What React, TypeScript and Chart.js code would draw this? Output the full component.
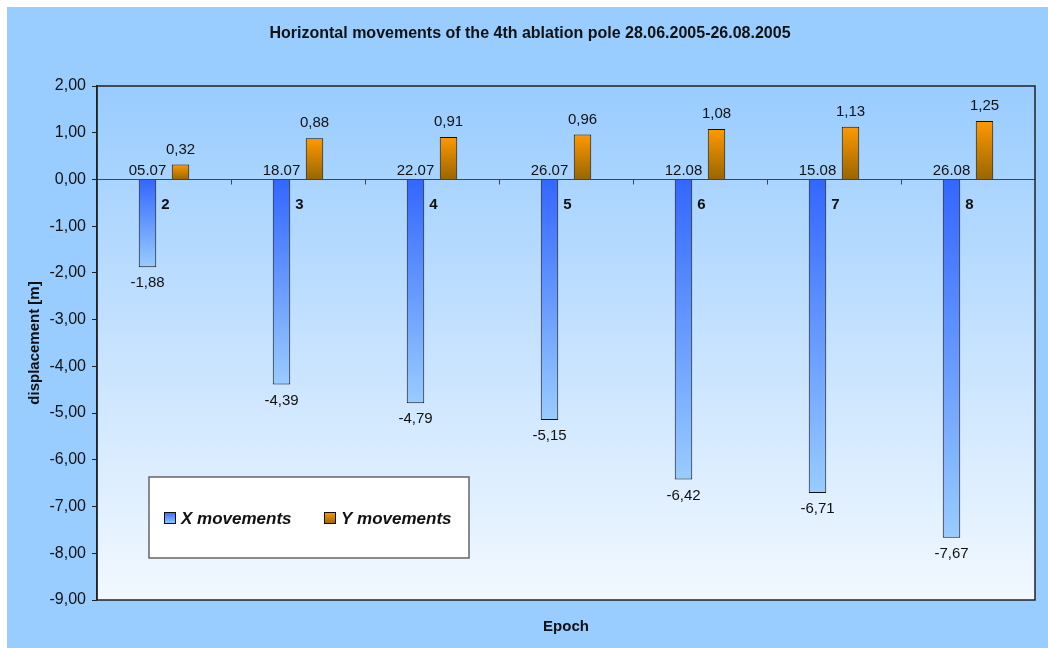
import React, { useEffect, useRef } from 'react';
import { Chart, registerables } from 'chart.js';

Chart.register(...registerables);

const epochs = ['2', '3', '4', '5', '6', '7', '8'];
const dates = ['05.07', '18.07', '22.07', '26.07', '12.08', '15.08', '26.08'];
const xMovements = [-1.88, -4.39, -4.79, -5.15, -6.42, -6.71, -7.67];
const yMovements = [0.32, 0.88, 0.91, 0.96, 1.08, 1.13, 1.25];
const seriesNames = ['X movements', 'Y movements'];
const yMin = -9;
const yMax = 2;
const yStep = 1;
const chartTitle = 'Horizontal movements of the 4th ablation pole 28.06.2005-26.08.2005';
const yTitle = 'displacement [m]';
const xTitle = 'Epoch';

const FONT = '"Liberation Sans", Arial, Helvetica, sans-serif';
const fmt = (v: number) => v.toFixed(2).replace('.', ',');

function barGradient(chart: any, v: number, topColor: string, bottomColor: string) {
  const ys = chart.scales && chart.scales.y;
  if (!ys || !chart.chartArea) return topColor;
  const y0 = ys.getPixelForValue(0);
  const y1 = ys.getPixelForValue(v);
  const a = Math.min(y0, y1);
  const b = Math.max(y0, y1);
  const g = chart.ctx.createLinearGradient(0, a, 0, b + 0.001);
  g.addColorStop(0, topColor);
  g.addColorStop(1, bottomColor);
  return g;
}

const decor = {
  id: 'decor',
  beforeDraw(chart: any) {
    const { ctx, chartArea: a } = chart;
    const g = ctx.createLinearGradient(0, a.top, 0, a.bottom);
    g.addColorStop(0, '#99CCFF');
    g.addColorStop(1, '#F2F8FF');
    ctx.save();
    ctx.fillStyle = g;
    ctx.fillRect(a.left, a.top, a.right - a.left, a.bottom - a.top);
    ctx.restore();
  },
  beforeDatasetsDraw(chart: any) {
    const { ctx, chartArea: a } = chart;
    const ys = chart.scales.y;
    const xs = chart.scales.x;
    const y0 = Math.round(ys.getPixelForValue(0)) + 0.5;
    ctx.save();
    ctx.strokeStyle = '#444';
    ctx.lineWidth = 1;
    ctx.beginPath();
    ctx.moveTo(a.left, y0);
    ctx.lineTo(a.right, y0);
    ctx.stroke();
    ctx.beginPath();
    for (let i = 0; i < epochs.length - 1; i++) {
      const bx = Math.round((xs.getPixelForValue(i) + xs.getPixelForValue(i + 1)) / 2) + 0.5;
      ctx.moveTo(bx, y0);
      ctx.lineTo(bx, y0 + 5);
    }
    ctx.stroke();
    ctx.restore();
  },
  afterDatasetsDraw(chart: any) {
    const { ctx, chartArea: a } = chart;
    const ys = chart.scales.y;
    const y0 = ys.getPixelForValue(0);
    const m0 = chart.getDatasetMeta(0);
    const m1 = chart.getDatasetMeta(1);
    ctx.save();
    ctx.fillStyle = '#111';
    ctx.textAlign = 'center';
    m0.data.forEach((el: any, i: number) => {
      ctx.font = `15px ${FONT}`;
      ctx.textBaseline = 'bottom';
      ctx.textAlign = 'center';
      ctx.fillText(dates[i], el.x, y0 - 1);
      ctx.textBaseline = 'middle';
      ctx.fillText(fmt(xMovements[i]), el.x, el.y + 16);
      ctx.font = `bold 15px ${FONT}`;
      ctx.textAlign = 'left';
      ctx.fillText(epochs[i], el.x + el.width / 2 + 5, y0 + 25);
    });
    m1.data.forEach((el: any, i: number) => {
      ctx.font = `15px ${FONT}`;
      ctx.textAlign = 'center';
      ctx.textBaseline = 'middle';
      ctx.fillText(fmt(yMovements[i]), el.x, el.y - 15);
    });
    ctx.strokeStyle = '#222';
    ctx.lineWidth = 1.5;
    ctx.strokeRect(a.left, a.top, a.right - a.left, a.bottom - a.top);

    const lx = 142, ly = 470, lw = 320, lh = 81;
    ctx.fillStyle = '#FFFFFF';
    ctx.fillRect(lx, ly, lw, lh);
    ctx.strokeStyle = '#666';
    ctx.lineWidth = 1.5;
    ctx.strokeRect(lx, ly, lw, lh);
    const items = [
      { x: 157, top: '#3366FF', bottom: '#99CCFF' },
      { x: 317, top: '#FF9900', bottom: '#996600' },
    ];
    items.forEach((it, k) => {
      const sy = 505;
      const g = ctx.createLinearGradient(0, sy, 0, sy + 12);
      g.addColorStop(0, it.top);
      g.addColorStop(1, it.bottom);
      ctx.fillStyle = g;
      ctx.fillRect(it.x, sy, 12, 12);
      ctx.strokeStyle = '#111';
      ctx.lineWidth = 1;
      ctx.strokeRect(it.x + 0.5, sy + 0.5, 11, 11);
      ctx.fillStyle = '#111';
      ctx.font = `italic bold 17px ${FONT}`;
      ctx.textAlign = 'left';
      ctx.textBaseline = 'middle';
      ctx.fillText(seriesNames[k], it.x + 17, sy + 7);
    });

    ctx.fillStyle = '#111';
    ctx.textAlign = 'center';
    ctx.textBaseline = 'middle';
    ctx.font = `bold 16px ${FONT}`;
    ctx.fillText(chartTitle, 523, 27);
    ctx.font = `bold 15px ${FONT}`;
    ctx.fillText(xTitle, (a.left + a.right) / 2, 620);
    ctx.restore();
  },
};

export default function App() {
  const ref = useRef<HTMLCanvasElement>(null);
  useEffect(() => {
    if (!ref.current) return;
    const chart = new Chart(ref.current, {
      type: 'bar',
      data: {
        labels: epochs,
        datasets: [
          {
            label: seriesNames[0],
            data: xMovements,
            backgroundColor: (c: any) => barGradient(c.chart, xMovements[c.dataIndex] ?? 0, '#3366FF', '#99CCFF'),
            borderColor: '#111',
            borderWidth: 1,
            categoryPercentage: 0.4925,
            barPercentage: 0.53,
          },
          {
            label: seriesNames[1],
            data: yMovements,
            backgroundColor: (c: any) => barGradient(c.chart, yMovements[c.dataIndex] ?? 0, '#FF9900', '#996600'),
            borderColor: '#111',
            borderWidth: 1,
            categoryPercentage: 0.4925,
            barPercentage: 0.53,
          },
        ],
      },
      options: {
        responsive: false,
        animation: false,
        devicePixelRatio: 1,
        layout: { padding: { left: 0, top: 79, right: 13, bottom: 48 } },
        plugins: { legend: { display: false }, title: { display: false }, tooltip: { enabled: false } },
        scales: {
          x: { type: 'category', display: false, offset: true },
          y: {
            min: yMin,
            max: yMax,
            ticks: {
              stepSize: yStep,
              callback: (v: any) => fmt(Number(v)),
              font: { family: FONT, size: 16 },
              color: '#111',
              padding: 6,
            },
            grid: { drawOnChartArea: false, drawTicks: true, tickLength: 5, color: '#222', lineWidth: 1 },
            border: { display: true, color: '#222', width: 1.5 },
            title: {
              display: true,
              text: yTitle,
              font: { family: FONT, size: 15, weight: 'bold' },
              color: '#111',
              padding: { top: 19, bottom: 0 },
            },
            afterFit: (s: any) => {
              s.width = 90;
            },
          },
        },
      },
      plugins: [decor],
    } as any);
    return () => chart.destroy();
  }, []);
  return (
    <div style={{ position: 'fixed', left: 7, top: 7, width: 1041, height: 641, background: '#99CCFF' }}>
      <canvas ref={ref} width={1041} height={641} style={{ display: 'block', width: 1041, height: 641 }} />
    </div>
  );
}
